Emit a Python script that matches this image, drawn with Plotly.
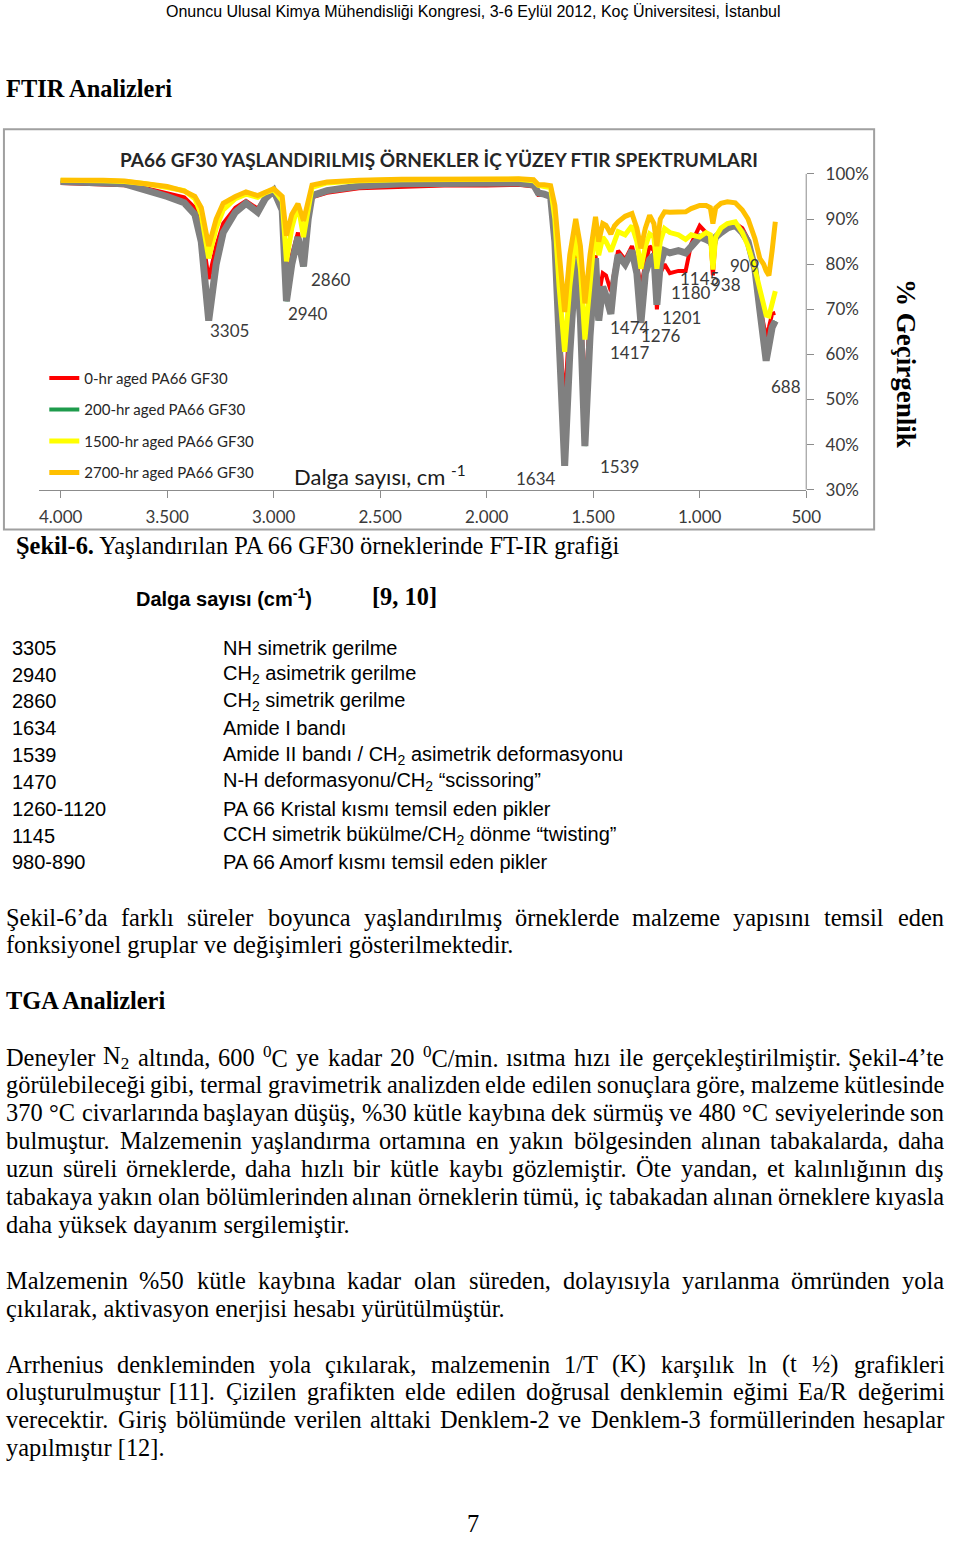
import re
import plotly.graph_objects as go

# ---------------- data ----------------
wavenumber = [4000, 3900, 3800, 3700, 3600, 3500, 3420, 3370, 3340, 3305, 3270, 3237, 3180, 3130, 3075,
              3040, 3000, 2960, 2940, 2915, 2886, 2860, 2838, 2820, 2750, 2600, 2400, 2200, 2000, 1850,
              1780, 1758, 1730, 1700, 1680, 1660, 1634, 1610, 1582, 1560, 1539, 1515, 1489, 1474, 1455,
              1440, 1417, 1400, 1383, 1350, 1318, 1295, 1276, 1255, 1235, 1215, 1201, 1185, 1165, 1140,
              1100, 1066, 1040, 1000, 970, 950, 938, 925, 900, 870, 833, 800, 773, 741, 718,
              700, 688, 675, 660, 645]

t_0hr = [98.0, 97.8, 97.5, 97.5, 96.8, 95.8, 94.8, 92.5, 88.0, 76.7, 84.0, 89.0, 92.5, 94.0, 92.3,
         94.8, 96.3, 93.0, 76.0, 82.0, 87.0, 80.5, 90.0, 94.8, 95.8, 96.8, 97.2, 97.4, 97.4, 97.6,
         97.2, 95.3, 95.3, 95.0, 86.0, 66.0, 49.0, 68.0, 84.0, 73.0, 50.0, 69.0, 82.0, 73.0, 78.0,
         77.5, 74.0, 79.0, 83.0, 81.0, 84.0, 80.0, 75.0, 80.0, 84.0, 83.0, 70.0, 78.0, 80.0, 78.0,
         78.5, 78.5, 84.5, 88.5, 87.0, 86.0, 77.5, 86.0, 87.5, 88.5, 89.0, 88.0, 85.5, 80.0, 71.0,
         66.0, 63.7, 66.0, 69.0, 69.2]

t_200hr = [98.3, 98.3, 98.0, 97.8, 96.5, 95.0, 93.6, 91.0, 85.0, 67.5, 80.0, 87.0, 91.5, 93.5, 91.5,
           94.5, 96.3, 92.0, 71.8, 80.0, 86.0, 79.5, 90.0, 95.2, 96.3, 97.3, 97.8, 98.0, 98.0, 98.0,
           97.6, 95.8, 95.5, 95.0, 85.0, 60.0, 35.3, 60.0, 81.3, 68.0, 39.7, 64.0, 81.3, 67.5, 75.0,
           73.0, 69.0, 77.0, 82.0, 80.0, 83.0, 78.0, 67.0, 78.0, 81.0, 82.0, 71.0, 80.0, 83.0, 82.5,
           83.0, 82.5, 84.0, 86.0, 85.5, 85.0, 84.0, 86.0, 87.0, 88.0, 88.6, 87.0, 85.0, 79.0, 70.0,
           62.0, 58.6, 62.0, 66.0, 67.4]

t_1500hr = [98.6, 98.6, 98.5, 98.3, 97.8, 97.0, 96.3, 94.5, 91.0, 81.3, 88.0, 92.0, 94.5, 95.5, 94.8,
            95.8, 96.5, 94.0, 80.6, 88.0, 93.2, 86.0, 93.0, 97.0, 98.0, 98.5, 98.7, 98.8, 98.8, 98.8,
            98.5, 97.5, 97.2, 97.0, 90.0, 75.0, 60.6, 75.0, 86.4, 79.0, 63.3, 77.0, 88.6, 82.0, 86.0,
            85.0, 82.8, 85.0, 87.2, 86.5, 88.5, 85.0, 79.0, 84.0, 86.7, 86.0, 79.0, 85.0, 87.9, 87.0,
            86.5, 85.5, 86.5, 86.0, 87.0, 86.5, 78.8, 86.0, 88.0, 89.0, 89.4, 87.0, 84.0, 79.0, 74.0,
            70.0, 68.7, 68.5, 71.0, 74.0]

t_2700hr = [98.6, 98.7, 98.6, 98.4, 97.9, 97.2, 96.2, 95.0, 92.5, 84.0, 90.0, 93.5, 95.0, 96.0, 95.2,
            96.0, 96.7, 95.0, 86.3, 91.0, 93.4, 89.6, 94.0, 97.5, 98.2, 98.6, 98.8, 98.9, 98.9, 98.9,
            98.7, 97.6, 97.6, 97.4, 93.0, 82.0, 69.4, 82.0, 90.0, 84.0, 71.3, 82.0, 90.5, 85.0, 89.0,
            88.6, 86.7, 88.5, 89.4, 90.6, 91.2, 88.0, 83.5, 88.0, 90.8, 89.0, 84.0, 90.0, 91.6, 91.5,
            91.5, 91.6, 92.3, 93.0, 93.0, 92.5, 89.0, 92.5, 93.5, 93.8, 93.6, 92.0, 90.0, 85.7, 81.3,
            80.0, 78.5, 77.5, 83.0, 89.4]

series_names = ["0-hr aged PA66 GF30", "200-hr aged PA66 GF30",
                "1500-hr aged PA66 GF30", "2700-hr aged PA66 GF30"]

x_tickvals = [4000, 3500, 3000, 2500, 2000, 1500, 1000, 500]
x_ticktext = ["4.000", "3.500", "3.000", "2.500", "2.000", "1.500", "1.000", "500"]
y_tickvals = [30, 40, 50, 60, 70, 80, 90, 100]
y_ticktext = ["30%", "40%", "50%", "60%", "70%", "80%", "90%", "100%"]

peak_labels = ["3305", "2940", "2860", "1634", "1539", "1474", "1276", "1417",
               "1201", "1180", "1145", "938", "909", "688"]
peak_label_x = [3209, 2840, 2729, 1767, 1378, 1328, 1180, 1328, 1087, 1041, 999, 875, 787, 593]
peak_label_y = [65.4, 69.0, 76.5, 32.6, 35.1, 65.9, 64.3, 60.4, 68.1, 73.8, 76.9, 75.6, 79.8, 52.9]

table_wn = ["3305", "2940", "2860", "1634", "1539", "1470", "1260-1120", "1145", "980-890"]
table_desc = ["NH simetrik gerilme",
              "CH<sub>2</sub> asimetrik gerilme",
              "CH<sub>2</sub> simetrik gerilme",
              "Amide I bandı",
              "Amide II bandı / CH<sub>2</sub> asimetrik deformasyonu",
              "N-H deformasyonu/CH<sub>2</sub> “scissoring”",
              "PA 66 Kristal kısmı temsil eden pikler",
              "CCH simetrik bükülme/CH<sub>2</sub> dönme “twisting”",
              "PA 66 Amorf kısmı temsil eden pikler"]

body_lines = [
    (923, "Şekil-6’da farklı süreler boyunca yaşlandırılmış örneklerde malzeme yapısını temsil eden", True),
    (951, "fonksiyonel gruplar ve değişimleri gösterilmektedir.", False),
    (1064, "Deneyler N<sub>2</sub> altında, 600 <sup>0</sup>C ye kadar 20 <sup>0</sup>C/min. ısıtma hızı ile gerçekleştirilmiştir. Şekil-4’te", True),
    (1092, "görülebileceği gibi, termal gravimetrik analizden elde edilen sonuçlara göre, malzeme kütlesinde", True),
    (1120, "370 °C civarlarında başlayan düşüş, %30 kütle kaybına dek sürmüş ve 480 °C seviyelerinde son", True),
    (1148, "bulmuştur. Malzemenin yaşlandırma ortamına en yakın bölgesinden alınan tabakalarda, daha", True),
    (1176, "uzun süreli örneklerde, daha hızlı bir kütle kaybı gözlemiştir. Öte yandan, et kalınlığının dış", True),
    (1204, "tabakaya yakın olan bölümlerinden alınan örneklerin tümü, iç tabakadan alınan örneklere kıyasla", True),
    (1232, "daha yüksek dayanım sergilemiştir.", False),
    (1289, "Malzemenin %50 kütle kaybına kadar olan süreden, dolayısıyla yarılanma ömründen yola", True),
    (1317, "çıkılarak, aktivasyon enerjisi hesabı yürütülmüştür.", False),
    (1373, "Arrhenius denkleminden yola çıkılarak, malzemenin 1/T (K) karşılık ln (t ½) grafikleri", True),
    (1401, "oluşturulmuştur [11]. Çizilen grafikten elde edilen doğrusal denklemin eğimi Ea/R değerimi", True),
    (1429, "verecektir. Giriş bölümünde verilen alttaki Denklem-2 ve Denklem-3 formüllerinden hesaplar", True),
    (1457, "yapılmıştır [12].", False),
]

# ---------------- helpers ----------------
W, H = 960, 1544


def px(x):
    return x / W


def py(y):
    return 1 - y / H


SERIF = "Liberation Serif"
SANS = "Liberation Sans"
CHART = "Lato"
FS = 24.4

TW = {' ': 250, 'a': 444, 'b': 500, 'c': 444, 'd': 500, 'e': 444, 'f': 333, 'g': 500, 'h': 500,
      'i': 278, 'j': 278, 'k': 500, 'l': 278, 'm': 778, 'n': 500, 'o': 500, 'p': 500, 'q': 500,
      'r': 333, 's': 389, 't': 278, 'u': 500, 'v': 500, 'w': 722, 'x': 500, 'y': 500, 'z': 444,
      'A': 722, 'B': 667, 'C': 667, 'D': 722, 'E': 611, 'F': 556, 'G': 722, 'H': 722, 'I': 333,
      'J': 389, 'K': 722, 'L': 611, 'M': 889, 'N': 722, 'O': 722, 'P': 556, 'Q': 722, 'R': 667,
      'S': 556, 'T': 611, 'U': 722, 'V': 722, 'W': 944, 'X': 722, 'Y': 722, 'Z': 611,
      '.': 250, ',': 250, '-': 333, '(': 333, ')': 333, '%': 833, '’': 333, '[': 333, ']': 333,
      '/': 278, '½': 750, '°': 400, ':': 278,
      'ş': 389, 'ı': 278, 'ğ': 500, 'ç': 444, 'ö': 500, 'ü': 500, 'Ş': 556, 'Ç': 667, 'Ö': 722,
      'Ü': 722, 'İ': 333}


def text_width(s):
    total = 0.0
    for m in re.finditer(r'<(sup|sub)>(.*?)</\1>|([^<]+)', s):
        if m.group(3) is not None:
            total += sum(TW.get(c, 500) for c in m.group(3))
        else:
            total += 0.7 * sum(TW.get(c, 500) for c in m.group(2))
    return total / 1000 * FS


annotations = []


def add_text(x, y, text, size, family, color="#000000", xanchor="left", yanchor="middle", angle=0):
    annotations.append(dict(x=px(x), y=py(y), xref="paper", yref="paper", text=text,
                            showarrow=False, xanchor=xanchor, yanchor=yanchor, borderpad=0,
                            textangle=angle, font=dict(size=size, family=family, color=color)))


# ---------------- figure ----------------
fig = go.Figure()

fig.add_trace(go.Scatter(x=wavenumber, y=t_0hr, mode="lines", name=series_names[0],
                         line=dict(color="#FF0000", width=4), legendgroup="g0"))
fig.add_trace(go.Scatter(x=wavenumber, y=t_200hr, mode="lines", name=series_names[1],
                         line=dict(color="#1E9B4C", width=4), legendgroup="g1"))
fig.add_trace(go.Scatter(x=wavenumber, y=t_200hr, mode="lines", name=series_names[1],
                         line=dict(color="#808080", width=7), legendgroup="g1", showlegend=False))
fig.add_trace(go.Scatter(x=wavenumber, y=t_1500hr, mode="lines", name=series_names[2],
                         line=dict(color="#FFFF00", width=5), legendgroup="g2"))
fig.add_trace(go.Scatter(x=wavenumber, y=t_2700hr, mode="lines", name=series_names[3],
                         line=dict(color="#FFC000", width=5), legendgroup="g3"))

# peak labels
for t, xv, yv in zip(peak_labels, peak_label_x, peak_label_y):
    annotations.append(dict(x=xv, y=yv, xref="x", yref="y", text=t, showarrow=False,
                            font=dict(size=17, family=CHART, color="#3A3A3A")))

# chart texts
add_text(446, 161, "<b>PA66 GF30 YAŞLANDIRILMIŞ ÖRNEKLER İÇ YÜZEY FTIR SPEKTRUMLARI</b>", 19, CHART,
         "#262626", xanchor="center")
add_text(386, 479, "Dalga sayısı, cm <sup>-1</sup>", 22, CHART, "#1A1A1A", xanchor="center")
add_text(921, 366, "<b>% Geçirgenlik</b>", 27, SERIF, "#000000", xanchor="center", angle=90)

# page texts
add_text(481, 11, "Onuncu Ulusal Kimya Mühendisliği Kongresi, 3-6 Eylül 2012, Koç Üniversitesi, İstanbul",
         16, SANS, xanchor="center")
add_text(5, 89, "<b>FTIR Analizleri</b>", FS, SERIF)
add_text(15, 549, "<b>Şekil-6.</b> Yaşlandırılan PA 66 GF30 örneklerinde FT-IR grafiği", FS, SERIF)
add_text(137, 601, "<b>Dalga sayısı (cm<sup>-1</sup>)</b>", 20, SANS)
add_text(377, 600, "<b>[9, 10]</b>", FS, SERIF)
for i, (a, b) in enumerate(zip(table_wn, table_desc)):
    yy = 652 + 27 * i
    add_text(11, yy, a, 20, SANS)
    add_text(226, yy, b, 20, SANS)
add_text(5, 1007, "<b>TGA Analizleri</b>", FS, SERIF)
add_text(481, 1533, "7", FS, SERIF, xanchor="center")

LEFT, RIGHT = 5, 957
for yy, line, justify in body_lines:
    if not justify:
        add_text(LEFT, yy, line, FS, SERIF)
        continue
    words = line.split(" ")
    widths = [text_width(w) for w in words]
    gap = (RIGHT - LEFT - sum(widths)) / (len(words) - 1)
    xx = LEFT
    for w, wd in zip(words, widths):
        add_text(xx, yy, w, FS, SERIF)
        xx += wd + gap

shapes = [
    dict(type="rect", xref="paper", yref="paper", x0=px(4), x1=px(888), y0=py(533), y1=py(130),
         line=dict(color="#A0A0A0", width=2), fillcolor="rgba(0,0,0,0)", layer="below"),
    dict(type="line", xref="x domain", yref="y", x0=1, x1=1, y0=30, y1=100,
         line=dict(color="#8C8C8C", width=1)),
]

fig.update_layout(
    width=W, height=H, margin=dict(l=0, r=0, t=0, b=0),
    paper_bgcolor="white", plot_bgcolor="rgba(0,0,0,0)",
    showlegend=True,
    legend=dict(x=px(45), y=py(364), xanchor="left", yanchor="top",
                bgcolor="rgba(0,0,0,0)", traceorder="grouped", tracegroupgap=9,
                font=dict(size=15, family=CHART, color="#262626")),
    xaxis=dict(domain=[px(40), px(819)], range=[4100, 500], tickvals=x_tickvals, ticktext=x_ticktext,
               showgrid=False, zeroline=False, showline=True, linecolor="#8C8C8C", linewidth=1,
               ticks="outside", ticklen=7, tickcolor="#8C8C8C", ticklabelstandoff=5,
               tickfont=dict(size=17, family=CHART, color="#3A3A3A")),
    yaxis=dict(domain=[py(493), py(161.4)], range=[30, 103], side="right", anchor="x",
               tickvals=y_tickvals, ticktext=y_ticktext, showgrid=False, zeroline=False,
               showline=False, ticks="outside", ticklen=7, tickcolor="#8C8C8C", ticklabelstandoff=8,
               tickfont=dict(size=17, family=CHART, color="#3A3A3A")),
    annotations=annotations,
    shapes=shapes,
)

POST = """
document.documentElement.style.margin='0';
document.documentElement.style.overflow='hidden';
document.body.style.margin='0';
document.body.style.overflow='hidden';
"""

fig.write_html("out.html", config={"displayModeBar": False}, post_script=POST)
